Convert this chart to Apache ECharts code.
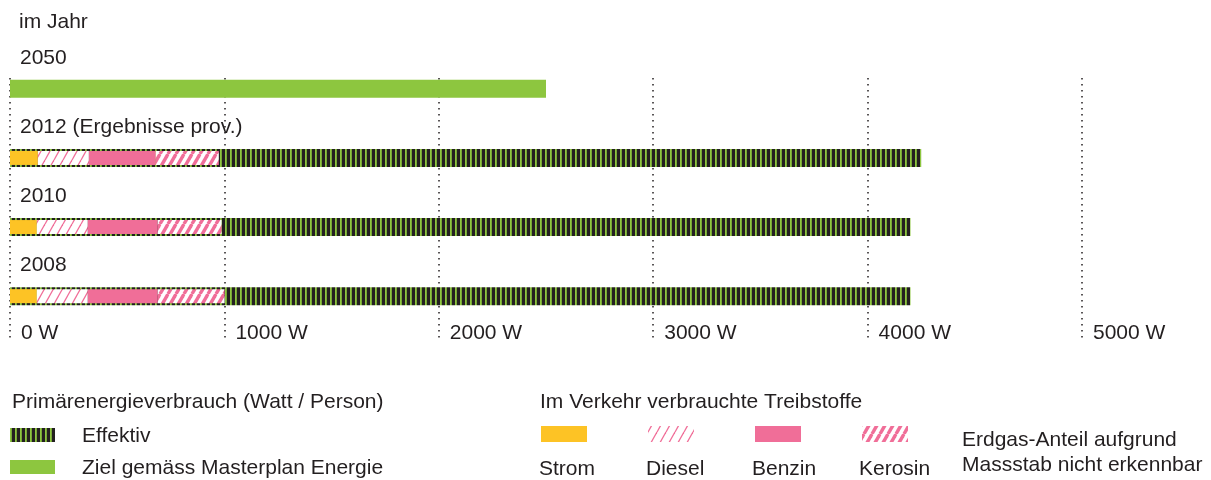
<!DOCTYPE html>
<html>
<head>
<meta charset="utf-8">
<script src="https://cdn.jsdelivr.net/npm/echarts@6/dist/echarts.min.js"></script>
<style>
  html, body { margin: 0; padding: 0; background: #fff; }
  #chart-container { width: 1211px; height: 480px; }
</style>
</head>
<body>
<div id="chart-container"></div>
<script>
// values in Watt per person
const years = ['2050', '2012 (Ergebnisse prov.)', '2010', '2008'];
const ziel = [2500, '-', '-', '-'];
const effektiv = ['-', 4250, 4200, 4200];
const strom = ['-', 130, 125, 125];
const diesel = ['-', 238, 238, 238];
const benzin = ['-', 312, 326, 326];
const kerosin = ['-', 294, 298, 312];
const axisTicks = [0, 1000, 2000, 3000, 4000, 5000];

const font = "'Liberation Sans', Arial, sans-serif";
const fontSize = 21;
const textColor = '#231f20';
const green = '#8dc63f';
const yellow = '#fdc325';
const pink = '#f06e98';
const dark = '#231f20';

// pattern tiles
function verticalStripes () {
    const c = document.createElement('canvas');
    c.width = 5; c.height = 4;
    const ctx = c.getContext('2d');
    ctx.fillStyle = dark;
    ctx.fillRect(0, 0, 5, 4);
    ctx.fillStyle = green;
    ctx.fillRect(0, 0, 1.8, 4);
    return c;
}

function diagonalStripes (w, h, bg, fg, lw) {
    const c = document.createElement('canvas');
    c.width = w; c.height = h;
    const ctx = c.getContext('2d');
    ctx.fillStyle = bg;
    ctx.fillRect(0, 0, w, h);
    ctx.strokeStyle = fg;
    ctx.lineWidth = lw;
    [-w, 0, w].forEach(dx => {
        ctx.beginPath();
        ctx.moveTo(dx, h);
        ctx.lineTo(dx + w, 0);
        ctx.stroke();
    });
    return c;
}

const effektivFill = { image: verticalStripes(), repeat: 'repeat' };
const dieselFill = { image: diagonalStripes(9, 16, '#ffffff', pink, 1.3), repeat: 'repeat' };
const kerosinFill = { image: diagonalStripes(8, 14, '#ffffff', pink, 3.4), repeat: 'repeat' };

const chartContainer = document.getElementById('chart-container');
const myChart = echarts.init(chartContainer);

function legendText (x, y, text) {
    return {
        type: 'text', x: x, y: y,
        style: { text: text, font: fontSize + 'px ' + font, fill: textColor, verticalAlign: 'middle' }
    };
}
function legendBox (x, y, w, h, fill) {
    return { type: 'rect', shape: { x: x, y: y, width: w, height: h }, style: { fill: fill } };
}

const options = {
    animation: false,
    backgroundColor: '#ffffff',
    title: {
        text: 'im Jahr',
        left: 14, top: 7,
        textStyle: { fontFamily: font, fontSize: fontSize, fontWeight: 'normal', color: textColor }
    },
    grid: [
        { left: 10, right: 129, top: 78, height: 264 },
        { left: 10, right: 129, top: 54.3, height: 276.4 }
    ],
    xAxis: [
        {
            gridIndex: 0,
            type: 'value',
            min: 0, max: 5000, interval: 1000,
            axisLine: { show: false },
            axisTick: { show: false },
            splitLine: {
                show: true,
                lineStyle: { color: '#231f20', width: 1.5, type: [1.5, 4.5] }
            },
            axisLabel: {
                inside: true,
                margin: -2,
                align: 'left',
                padding: [0, 0, 0, 11],
                fontFamily: font, fontSize: fontSize, color: textColor,
                formatter: v => axisTicks.includes(v) ? v + ' W' : ''
            }
        },
        {
            gridIndex: 1,
            type: 'value',
            min: 0, max: 5000,
            show: false
        }
    ],
    yAxis: [
        {
            gridIndex: 1,
            type: 'category',
            inverse: true,
            data: years,
            axisLine: { show: false },
            axisTick: { show: false },
            axisLabel: {
                inside: true,
                margin: 10,
                verticalAlign: 'bottom',
                lineHeight: 62,
                fontFamily: font, fontSize: fontSize, color: textColor
            }
        },
        {
            gridIndex: 1,
            type: 'category',
            inverse: true,
            data: years,
            show: false
        },
        {
            gridIndex: 0,
            type: 'value',
            show: false
        }
    ],
    series: [
        {
            name: 'Ziel gemäss Masterplan Energie', type: 'bar', stack: 'main',
            xAxisIndex: 1, yAxisIndex: 0, barWidth: 18,
            itemStyle: { color: green }, data: ziel
        },
        {
            name: 'Effektiv', type: 'bar', stack: 'main',
            xAxisIndex: 1, yAxisIndex: 0, barWidth: 18,
            itemStyle: { color: effektivFill }, data: effektiv
        },
        {
            name: 'Strom', type: 'bar', stack: 'fuel',
            xAxisIndex: 1, yAxisIndex: 1, barWidth: 14,
            itemStyle: { color: yellow }, data: strom
        },
        {
            name: 'Diesel', type: 'bar', stack: 'fuel',
            xAxisIndex: 1, yAxisIndex: 1, barWidth: 14,
            itemStyle: { color: dieselFill }, data: diesel
        },
        {
            name: 'Benzin', type: 'bar', stack: 'fuel',
            xAxisIndex: 1, yAxisIndex: 1, barWidth: 14,
            itemStyle: { color: pink }, data: benzin
        },
        {
            name: 'Kerosin', type: 'bar', stack: 'fuel',
            xAxisIndex: 1, yAxisIndex: 1, barWidth: 14,
            itemStyle: { color: kerosinFill }, data: kerosin
        }
    ],
    graphic: [
        legendText(12, 402, 'Primärenergieverbrauch (Watt / Person)'),
        legendBox(10, 428, 45, 14, effektivFill),
        legendText(82, 436, 'Effektiv'),
        legendBox(10, 460, 45, 14, green),
        legendText(82, 468, 'Ziel gemäss Masterplan Energie'),

        legendText(540, 402, 'Im Verkehr verbrauchte Treibstoffe'),
        legendBox(541, 426, 46, 16, yellow),
        legendBox(648, 426, 46, 16, dieselFill),
        legendBox(755, 426, 46, 16, pink),
        legendBox(862, 426, 46, 16, kerosinFill),
        legendText(539, 469, 'Strom'),
        legendText(646, 469, 'Diesel'),
        legendText(752, 469, 'Benzin'),
        legendText(859, 469, 'Kerosin'),

        legendText(962, 440, 'Erdgas-Anteil aufgrund'),
        legendText(962, 465, 'Massstab nicht erkennbar')
    ]
};

myChart.setOption(options);

window.addEventListener('resize', function () {
    myChart.resize();
});
</script>
</body>
</html>
